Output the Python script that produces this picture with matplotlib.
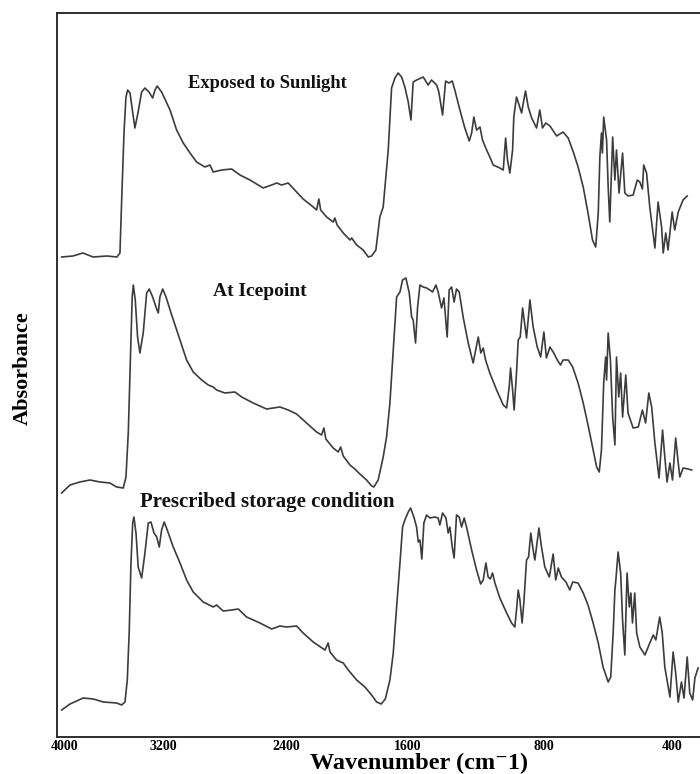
"""FTIR spectra of the sample under three storage conditions."""
import numpy as np
import matplotlib
matplotlib.use("Agg")
import matplotlib.pyplot as plt

# tick values and where they sit along the axis (the original axis is not linear)
tick_wn = [4000, 3200, 2400, 1600, 800, 400]
anchor_wn = np.array([4100, 4000, 3200, 2400, 1600, 800, 400, 200])
anchor_pos = np.array([52.75, 65, 163, 286, 408, 544, 672, 736])

# spectrum 1: exposed to sunlight
wn_sun = [4027, 3935, 3853, 3771, 3657, 3576, 3551, 3537, 3518, 3502,
          3488, 3469, 3429, 3404, 3374, 3347, 3314, 3284, 3265, 3247,
          3211, 3154, 3111, 3068, 3024, 2981, 2927, 2894, 2873, 2818,
          2753, 2699, 2634, 2548, 2493, 2460, 2428, 2385, 2330, 2287,
          2221, 2199, 2184, 2172, 2133, 2090, 2079, 2064, 2024, 1980,
          1969, 1936, 1893, 1860, 1838, 1810, 1784, 1762, 1729, 1707,
          1685, 1664, 1641, 1620, 1598, 1582, 1569, 1549, 1510, 1481,
          1461, 1431, 1418, 1396, 1378, 1359, 1339, 1324, 1294, 1265,
          1239, 1225, 1212, 1196, 1176, 1161, 1137, 1118, 1098, 1059,
          1039, 1025, 1014, 1000, 984, 977, 961, 931, 918, 908,
          892, 872, 843, 824, 808, 794, 781, 760, 740, 724,
          708, 693, 677, 662, 648, 638, 630, 625, 620, 617,
          613, 604, 599, 594, 585, 578, 573, 565, 554, 547,
          537, 521, 508, 500, 492, 488, 479, 469, 453, 443,
          432, 427, 419, 412, 399, 391, 380, 365, 352]
abs_sun = [0.10, 0.11, 0.14, 0.10, 0.11, 0.10, 0.14, 0.67, 1.34, 1.70,
           1.77, 1.74, 1.39, 1.54, 1.75, 1.79, 1.75, 1.69, 1.77, 1.81,
           1.75, 1.57, 1.37, 1.24, 1.14, 1.05, 1.00, 1.02, 0.95, 0.97,
           0.98, 0.92, 0.87, 0.79, 0.82, 0.84, 0.82, 0.84, 0.75, 0.68,
           0.60, 0.57, 0.68, 0.57, 0.50, 0.45, 0.49, 0.42, 0.34, 0.27,
           0.29, 0.22, 0.17, 0.10, 0.11, 0.17, 0.50, 0.60, 1.17, 1.79,
           1.89, 1.94, 1.90, 1.80, 1.65, 1.47, 1.85, 1.87, 1.90, 1.82,
           1.87, 1.82, 1.75, 1.52, 1.86, 1.84, 1.86, 1.77, 1.57, 1.39,
           1.26, 1.34, 1.50, 1.37, 1.40, 1.27, 1.17, 1.10, 1.02, 0.99,
           0.97, 1.29, 1.07, 0.94, 1.17, 1.50, 1.70, 1.54, 1.67, 1.76,
           1.60, 1.49, 1.39, 1.57, 1.39, 1.44, 1.41, 1.31, 1.35, 1.29,
           1.15, 1.00, 0.80, 0.54, 0.27, 0.20, 0.54, 1.10, 1.34, 1.14,
           1.50, 1.27, 0.80, 0.45, 1.30, 0.87, 1.17, 0.74, 1.14, 0.74,
           0.71, 0.72, 0.87, 0.85, 0.78, 1.02, 0.94, 0.60, 0.19, 0.65,
           0.40, 0.14, 0.34, 0.17, 0.55, 0.37, 0.55, 0.67, 0.71]

# spectrum 2: at icepoint
wn_ice = [4027, 3959, 3878, 3796, 3714, 3633, 3578, 3524, 3502, 3483,
          3464, 3451, 3442, 3426, 3407, 3388, 3361, 3333, 3312, 3284,
          3257, 3238, 3225, 3202, 3180, 3143, 3100, 3046, 3003, 2948,
          2905, 2873, 2851, 2797, 2732, 2688, 2613, 2526, 2439, 2385,
          2330, 2264, 2199, 2166, 2151, 2138, 2090, 2057, 2041, 2024,
          1980, 1948, 1915, 1871, 1838, 1823, 1795, 1762, 1740, 1718,
          1696, 1674, 1652, 1635, 1613, 1592, 1578, 1569, 1555, 1543,
          1529, 1510, 1490, 1471, 1455, 1435, 1422, 1402, 1388, 1369,
          1357, 1343, 1328, 1314, 1298, 1275, 1245, 1216, 1186, 1171,
          1157, 1143, 1118, 1078, 1039, 1019, 1004, 996, 984, 975,
          961, 951, 939, 925, 912, 902, 882, 863, 839, 819,
          800, 792, 781, 769, 758, 748, 740, 724, 710, 693,
          677, 662, 648, 635, 627, 620, 613, 607, 604, 599,
          592, 585, 578, 573, 566, 560, 554, 544, 537, 521,
          505, 492, 482, 472, 463, 453, 440, 429, 422, 415,
          406, 398, 388, 380, 375, 365, 349, 338]
abs_ice = [0.04, 0.12, 0.15, 0.17, 0.15, 0.14, 0.10, 0.09, 0.20, 0.64,
           1.47, 2.00, 2.12, 1.97, 1.60, 1.44, 1.64, 2.04, 2.08, 2.00,
           1.90, 1.84, 2.00, 2.08, 2.00, 1.82, 1.62, 1.37, 1.25, 1.17,
           1.12, 1.10, 1.07, 1.04, 1.05, 1.00, 0.94, 0.88, 0.90, 0.87,
           0.83, 0.74, 0.65, 0.62, 0.69, 0.58, 0.49, 0.45, 0.50, 0.41,
           0.32, 0.28, 0.23, 0.17, 0.11, 0.10, 0.17, 0.40, 0.60, 0.94,
           1.47, 2.00, 2.05, 2.17, 2.19, 2.04, 1.80, 1.77, 1.54, 1.90,
           2.12, 2.10, 2.09, 2.07, 2.05, 2.12, 2.05, 1.89, 1.99, 1.60,
           2.07, 2.10, 1.95, 2.08, 2.05, 1.80, 1.54, 1.34, 1.60, 1.44,
           1.49, 1.37, 1.24, 1.07, 0.92, 0.89, 1.10, 1.29, 1.07, 0.87,
           1.24, 1.57, 1.60, 1.89, 1.72, 1.59, 1.97, 1.70, 1.50, 1.40,
           1.65, 1.39, 1.50, 1.44, 1.37, 1.32, 1.37, 1.37, 1.30, 1.14,
           0.94, 0.72, 0.50, 0.30, 0.25, 0.47, 1.14, 1.40, 1.17, 1.64,
           1.37, 0.80, 0.52, 1.40, 1.00, 1.24, 0.80, 1.22, 0.84, 0.69,
           0.70, 0.87, 0.74, 1.04, 0.90, 0.54, 0.19, 0.67, 0.40, 0.15,
           0.34, 0.17, 0.59, 0.34, 0.20, 0.29, 0.28, 0.27]

# spectrum 3: prescribed storage condition
wn_presc = [4027, 3959, 3851, 3769, 3687, 3578, 3537, 3510, 3491, 3475,
            3461, 3447, 3437, 3420, 3402, 3374, 3347, 3320, 3298, 3273,
            3251, 3230, 3211, 3192, 3172, 3133, 3089, 3046, 3003, 2938,
            2873, 2851, 2808, 2753, 2710, 2656, 2569, 2493, 2439, 2395,
            2330, 2287, 2221, 2144, 2123, 2111, 2068, 2024, 1991, 1936,
            1882, 1838, 1805, 1775, 1748, 1718, 1696, 1674, 1652, 1635,
            1620, 1598, 1584, 1565, 1549, 1539, 1529, 1518, 1506, 1490,
            1471, 1441, 1422, 1412, 1396, 1376, 1363, 1353, 1339, 1328,
            1314, 1298, 1284, 1269, 1255, 1225, 1196, 1172, 1157, 1141,
            1128, 1115, 1102, 1088, 1059, 1019, 990, 971, 961, 951,
            941, 928, 918, 902, 890, 877, 863, 853, 829, 814,
            797, 783, 771, 763, 755, 745, 731, 719, 710, 693,
            677, 662, 646, 630, 615, 599, 591, 583, 578, 575,
            568, 560, 554, 547, 540, 533, 528, 523, 516, 510,
            500, 484, 469, 458, 450, 438, 430, 422, 406, 396,
            388, 380, 370, 362, 352, 344, 335, 328, 318]
abs_presc = [0.07, 0.13, 0.19, 0.18, 0.15, 0.14, 0.12, 0.15, 0.37, 0.87,
             1.54, 1.94, 2.00, 1.84, 1.50, 1.39, 1.64, 1.94, 1.95, 1.84,
             1.80, 1.70, 1.87, 1.95, 1.87, 1.70, 1.54, 1.37, 1.25, 1.15,
             1.10, 1.12, 1.06, 1.07, 1.08, 1.00, 0.94, 0.88, 0.91, 0.90,
             0.91, 0.84, 0.75, 0.67, 0.74, 0.65, 0.57, 0.54, 0.47, 0.37,
             0.30, 0.22, 0.15, 0.13, 0.18, 0.37, 0.64, 1.10, 1.54, 1.90,
             1.97, 2.05, 2.09, 2.00, 1.90, 1.75, 1.77, 1.58, 1.94, 2.02,
             1.99, 2.00, 1.99, 1.92, 2.04, 1.99, 1.84, 1.90, 1.70, 1.59,
             2.02, 2.00, 1.90, 1.99, 1.90, 1.67, 1.47, 1.33, 1.37, 1.54,
             1.40, 1.38, 1.44, 1.34, 1.19, 1.04, 0.94, 0.90, 1.07, 1.27,
             1.17, 0.94, 1.14, 1.57, 1.60, 1.84, 1.67, 1.57, 1.89, 1.70,
             1.50, 1.40, 1.63, 1.37, 1.49, 1.40, 1.35, 1.27, 1.35, 1.34,
             1.24, 1.12, 0.94, 0.74, 0.50, 0.35, 0.40, 0.87, 1.27, 1.37,
             1.65, 1.44, 0.97, 0.62, 1.44, 1.10, 1.24, 0.94, 1.24, 0.84,
             0.70, 0.62, 0.74, 0.82, 0.77, 1.00, 0.84, 0.50, 0.20, 0.65,
             0.44, 0.15, 0.35, 0.19, 0.60, 0.24, 0.17, 0.39, 0.49]

labels = ["Exposed to Sunlight", "At Icepoint", "Prescribed storage condition"]
offsets = [4.7, 2.4, 0.2]


def fwd(w):
    return np.interp(w, anchor_wn[::-1], -anchor_pos[::-1])


def inv(t):
    return np.interp(t, -anchor_pos[::-1], anchor_wn[::-1])


plt.rcParams["font.family"] = ["Liberation Serif", "DejaVu Serif"]
plt.rcParams["font.weight"] = "bold"

fig = plt.figure(figsize=(7.0, 7.74), dpi=100)
ax = fig.add_axes([57 / 700, 37 / 774, 643 / 700, 724 / 774])
ax.set_xscale("function", functions=(fwd, inv))

series = [(wn_sun, abs_sun), (wn_ice, abs_ice), (wn_presc, abs_presc)]
for (wn, ab), off in zip(series, offsets):
    ax.plot(wn, np.array(ab) + off, color="#3c3c3c", linewidth=1.2)

ax.text(2520, 6.54, labels[0], ha="center", va="center", fontsize=13.3,
        fontweight="bold", color="#111111")
ax.text(2572, 4.45, labels[1], ha="center", va="center", fontsize=14,
        fontweight="bold", color="#111111")
ax.text(2520, 2.35, labels[2], ha="center", va="center", fontsize=15,
        fontweight="bold", color="#111111")

ax.set_xlim(4065, 312)
ax.set_ylim(0, 7.24)
ax.set_xticks(tick_wn)
ax.set_xticklabels([str(t) for t in tick_wn], fontsize=10, fontweight="bold")
ax.set_yticks([])
ax.tick_params(axis="x", length=0, pad=2)

ax.spines["right"].set_visible(False)
for side in ["top", "left", "bottom"]:
    ax.spines[side].set_color("#2e2e2e")
    ax.spines[side].set_linewidth(1.4)

ax.set_xlabel("Wavenumber (cm\u207b1)", fontsize=17.5, fontweight="bold")
ax.xaxis.label.set_verticalalignment("baseline")
ax.xaxis.set_label_coords((419 - 57) / 643, -32 / 724)
ax.set_ylabel("Absorbance", fontsize=16, fontweight="bold")
ax.yaxis.set_label_coords(-24 / 643, 0.5 + (375 - 368) / 724)

fig.savefig("out.png", dpi=100)
